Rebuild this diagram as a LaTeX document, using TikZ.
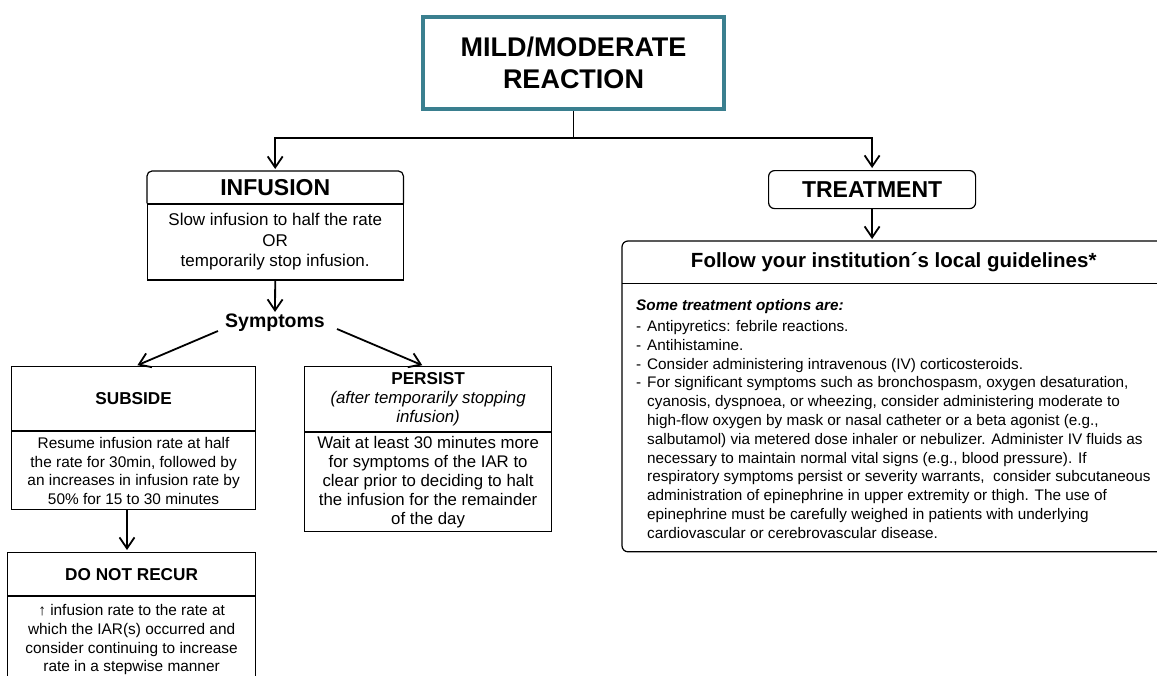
\documentclass[tikz,border=0pt]{standalone}
\usepackage{fontspec}
\setmainfont{Liberation Sans}
\usetikzlibrary{positioning}
\usetikzlibrary{arrows.meta}
\usetikzlibrary{calc}
\definecolor{reactionteal}{RGB}{58,127,143}

\newcommand{\dashitem}{\makebox[11pt][l]{-}}
\newcommand{\indentline}{\hspace*{11pt}}

\begin{document}
\begin{tikzpicture}[x=1pt, y=-1pt,
    box/.style={draw, line width=1.2pt, inner sep=0pt, align=center},
    title/.style={inner sep=0pt, align=center, font=\fontsize{17.2}{20}\selectfont\bfseries},
    link/.style={line width=1.8pt},
    arrow/.style={line width=1.8pt, -{Straight Barb[length=11pt,width=15pt]}, shorten >=2pt},
  ]
  \useasboundingbox (0,0) rectangle (1157,675);
  \clip (0,0) rectangle (1157,675);

  \node[box, draw=reactionteal, line width=4pt, minimum width=301pt, minimum height=92pt, anchor=north west,
    font=\fontsize{27}{32}\selectfont\bfseries] (reaction) at (421,15) {MILD/MODERATE\\REACTION};
  \coordinate (split) at (reaction.south |- 0,138);

  % infusion
  \node[title, minimum width=256pt, minimum height=32pt, anchor=north west,
    font=\fontsize{23}{26}\selectfont\bfseries] (infhead) at (147,171) {INFUSION};
  \draw[line width=1.2pt, rounded corners=5pt] (infhead.south west) |- (infhead.north east) -- (infhead.south east);
  \node[box, minimum width=256pt, minimum height=76pt, below=0pt of infhead,
    font=\fontsize{17}{20.5}\selectfont] (infbody) {Slow infusion to half the rate\\OR\\temporarily stop infusion.};

  \node[inner sep=0pt, font=\fontsize{19.5}{23}\selectfont\bfseries] (symptoms) at (275,323) {Symptoms};

  \node[box, title, minimum width=244pt, minimum height=64pt, anchor=north west] (subhead) at (11,366) {SUBSIDE};
  \node[box, minimum width=244pt, minimum height=78pt, below=0pt of subhead,
    font=\fontsize{15.4}{18.5}\selectfont] (subbody) {Resume infusion rate at half\\the rate for 30min, followed by\\an increases in infusion rate by\\50\% for 15 to 30 minutes};

  \node[box, minimum width=247pt, minimum height=65pt, anchor=north west,
    font=\fontsize{16.8}{19}\selectfont] (perhead) at (304,366)
    {\textbf{\fontsize{17.2}{19}\selectfont PERSIST}\\\textit{(after temporarily stopping}\\\textit{infusion)}};
  \node[box, minimum width=247pt, minimum height=99pt, below=0pt of perhead,
    font=\fontsize{16.8}{19}\selectfont] (perbody) {Wait at least 30 minutes more\\for symptoms of the IAR to\\clear prior to deciding to halt\\the infusion for the remainder\\of the day};

  \node[box, title, minimum width=248pt, minimum height=43pt, anchor=north west] (dnrhead) at (7,552) {DO NOT RECUR};
  \node[box, minimum width=248pt, minimum height=86pt, below=0pt of dnrhead,
    font=\fontsize{15.4}{18.7}\selectfont] (dnrbody) {↑ infusion rate to the rate at\\which the IAR(s) occurred and\\consider continuing to increase\\rate in a stepwise manner};

  % treatment
  \node[box, rounded corners=6pt, minimum width=207pt, minimum height=38pt, anchor=north west,
    font=\fontsize{23}{26}\selectfont\bfseries] (treat) at (768,170) {TREATMENT};

  \node[title, minimum width=543pt, minimum height=42pt, anchor=north west,
    font=\fontsize{20.5}{24}\selectfont\bfseries] (fhead) at (622,241) {Follow your institution´s local guidelines*};
  \node[minimum width=543pt, minimum height=268pt, inner sep=0pt, below=0pt of fhead] (fbody) {};
  \draw[line width=1.2pt, rounded corners=6pt] (fhead.north east) -| (fbody.south west) -- (fbody.south east);
  \draw[line width=1.2pt] (fhead.south west) -- (fhead.south east);
  \node[anchor=west, align=left, inner sep=0pt, font=\fontsize{15.3}{18.8}\selectfont] (options) at (636,419)
    {\textbf{\textit{Some treatment options are:}}\\[2pt]
     \dashitem Antipyretics: febrile reactions.\\
     \dashitem Antihistamine.\\
     \dashitem Consider administering intravenous (IV) corticosteroids.\\
     \dashitem For significant symptoms such as bronchospasm, oxygen desaturation,\\
     \indentline cyanosis, dyspnoea, or wheezing, consider administering moderate to\\
     \indentline high-flow oxygen by mask or nasal catheter or a beta agonist (e.g.,\\
     \indentline salbutamol) via metered dose inhaler or nebulizer. Administer IV fluids as\\
     \indentline necessary to maintain normal vital signs (e.g., blood pressure). If\\
     \indentline respiratory symptoms persist or severity warrants,\ \ consider subcutaneous\\
     \indentline administration of epinephrine in upper extremity or thigh. The use of\\
     \indentline epinephrine must be carefully weighed in patients with underlying\\
     \indentline cardiovascular or cerebrovascular disease.};

  % connectors
  \draw[link] (reaction.south) -- (split);
  \draw[arrow] (split) -| (infhead.north);
  \draw[arrow] (split) -| (treat.north);
  \draw[arrow] (infbody.south) -- (symptoms.north);
  \draw[arrow] ([xshift=-7pt,yshift=-8pt]symptoms.west) -- ([xshift=2pt]subhead.north);
  \draw[arrow] ([xshift=12pt,yshift=-6pt]symptoms.east) -- ([xshift=-4pt]perhead.north);
  \draw[arrow] (127,0 |- subbody.south) -- (127,0 |- dnrhead.north);
  \draw[arrow] (treat.south) -- (treat.south |- fhead.north);
\end{tikzpicture}
\end{document}
